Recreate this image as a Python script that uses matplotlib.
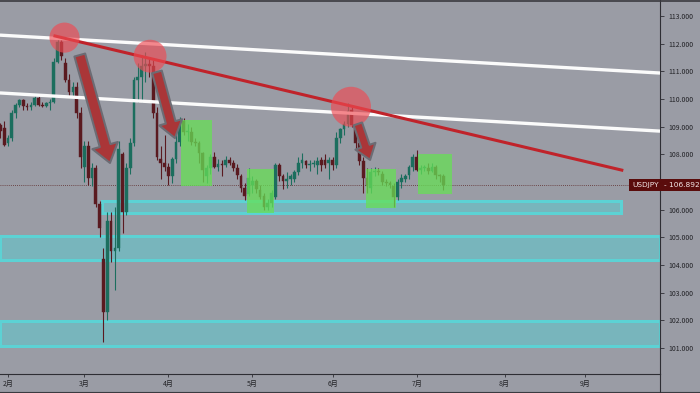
import matplotlib
matplotlib.use('Agg')
import matplotlib.pyplot as plt
from matplotlib.lines import Line2D
from matplotlib.patches import Rectangle
from matplotlib.transforms import blended_transform_factory

plt.rcParams['font.family'] = ['Noto Sans CJK JP', 'DejaVu Sans']

# daily USDJPY candles, bar index 0 = first trading day of February
first_bar = -2
opens = [109.05, 108.95, 108.4, 108.6, 109.5, 109.8, 109.95, 109.75, 109.7, 109.8,
         110.05, 109.8, 109.75, 109.85, 109.9, 111.35, 112.05, 111.3, 110.7, 110.25,
         110.45, 109.5, 107.55, 108.3, 107.15, 107.5, 106.2, 104.2, 102.3, 105.6,
         104.5, 104.6, 108.0, 105.9, 107.5, 108.4, 110.7, 110.8, 111.2, 111.25,
         111.2, 109.5, 107.85, 107.7, 107.55, 107.2, 107.85, 108.45, 109.2, 108.8,
         108.8, 108.45, 108.4, 108.05, 107.2, 107.5, 107.9, 107.55, 107.65, 107.6,
         107.8, 107.7, 107.5, 107.2, 106.8, 106.55, 106.9, 107.05, 106.7, 106.5,
         106.1, 106.25, 106.45, 107.6, 107.2, 107.05, 107.1, 107.1, 107.35, 107.7,
         107.75, 107.6, 107.65, 107.6, 107.8, 107.8, 107.7, 107.8, 107.6, 108.6,
         108.9, 109.1, 109.6, 109.05, 108.4, 107.75, 107.15, 106.8, 107.35, 107.4,
         107.3, 107.0, 106.95, 106.85, 106.45, 107.0, 107.1, 107.25, 107.55, 107.9,
         107.45, 107.5, 107.5, 107.4, 107.55, 107.25, 107.2]
highs = [109.15, 109.2, 108.7, 109.6, 109.85, 110.0, 110.0, 109.85, 109.9, 110.1,
         110.1, 109.9, 109.9, 110.0, 111.5, 112.25, 112.2, 111.5, 110.9, 110.6,
         110.6, 109.7, 108.5, 108.5, 107.7, 107.6, 106.3, 104.6, 105.9, 105.9,
         106.1, 108.5, 108.1, 107.7, 108.6, 110.8, 111.3, 111.6, 111.7, 111.5,
         111.4, 109.7, 108.3, 108.7, 107.7, 107.9, 108.7, 109.35, 109.3, 109.1,
         109.0, 108.6, 108.5, 108.1, 107.6, 108.0, 108.1, 107.85, 107.8, 107.95,
         107.9, 107.8, 107.65, 107.3, 106.95, 107.5, 107.2, 107.1, 106.9, 106.6,
         106.4, 106.7, 107.7, 107.7, 107.3, 107.35, 107.3, 107.45, 107.9, 108.05,
         107.8, 107.8, 107.8, 107.9, 107.9, 108.0, 107.9, 107.9, 108.8, 108.95,
         109.2, 109.85, 109.7, 109.1, 108.5, 107.9, 107.5, 107.5, 107.55, 107.5,
         107.4, 107.1, 107.05, 106.95, 107.1, 107.3, 107.3, 107.6, 108.0, 108.15,
         107.6, 107.6, 107.7, 107.7, 107.6, 107.3, 107.3]
lows = [108.6, 108.3, 108.3, 108.5, 109.3, 109.7, 109.6, 109.6, 109.6, 109.75,
        109.75, 109.7, 109.7, 109.6, 109.85, 111.3, 111.4, 110.6, 110.1, 110.1,
        109.3, 107.5, 107.0, 106.9, 106.85, 106.1, 105.0, 101.2, 102.0, 104.1,
        103.1, 104.5, 105.15, 105.8, 107.3, 108.3, 109.9, 109.9, 110.6, 110.8,
        109.3, 107.8, 107.1, 107.4, 106.9, 106.95, 107.7, 108.3, 108.7, 108.5,
        108.35, 108.3, 107.7, 107.0, 106.95, 107.3, 107.5, 107.4, 107.2, 107.55,
        107.6, 107.4, 107.1, 106.65, 106.35, 106.5, 106.6, 106.6, 106.4, 106.0,
        106.0, 106.1, 106.4, 107.05, 106.75, 106.8, 106.9, 107.0, 107.25, 107.5,
        107.5, 107.4, 107.55, 107.3, 107.4, 107.5, 107.1, 107.45, 107.5, 108.4,
        108.7, 109.0, 109.0, 108.2, 107.6, 106.6, 106.6, 106.6, 107.2, 107.25,
        106.9, 106.85, 106.8, 106.1, 106.35, 106.8, 107.0, 107.1, 107.4, 107.4,
        107.3, 107.4, 107.3, 107.35, 107.1, 107.0, 106.7]
closes = [108.85, 108.35, 108.6, 109.5, 109.8, 109.95, 109.75, 109.7, 109.8, 110.05,
          109.8, 109.75, 109.85, 109.9, 111.35, 112.05, 111.55, 110.7, 110.25, 110.45,
          109.5, 107.9, 108.3, 107.15, 107.5, 106.2, 105.35, 102.3, 105.6, 104.5,
          104.6, 108.2, 105.9, 107.5, 108.4, 110.7, 110.8, 111.2, 111.25, 111.2,
          109.5, 107.9, 107.7, 107.55, 107.2, 107.85, 108.45, 109.2, 108.8, 108.8,
          108.45, 108.4, 108.05, 107.45, 107.5, 107.9, 107.55, 107.65, 107.6, 107.8,
          107.7, 107.5, 107.25, 106.8, 106.5, 107.15, 107.05, 106.75, 106.45, 106.1,
          106.25, 106.6, 107.6, 107.2, 107.05, 107.1, 107.2, 107.35, 107.7, 107.8,
          107.6, 107.65, 107.7, 107.75, 107.6, 107.6, 107.8, 107.6, 108.6, 108.9,
          109.1, 109.55, 109.05, 108.4, 107.75, 107.15, 106.85, 107.35, 107.4, 107.35,
          107.0, 106.95, 106.9, 106.45, 107.0, 107.15, 107.2, 107.55, 107.9, 107.45,
          107.5, 107.5, 107.4, 107.55, 107.25, 107.2, 106.9]

last_price = 106.892
symbol = 'USDJPY'

month_bars = [0, 20, 42, 64, 85, 107, 130, 151]
month_labels = ['2月', '3月', '4月', '5月', '6月', '7月', '8月', '9月']
price_ticks = list(range(101, 114))

# drawn objects: (bar, price) pairs
upper_channel = ([-2.1, 170.7], [112.31, 110.94])
lower_channel = ([-2.1, 170.7], [110.22, 108.84])
red_trend = ([12.3, 160.7], [112.28, 107.43])
peak_bars = [14.8, 37.2, 89.8]
peak_prices = [112.22, 111.55, 109.72]
peak_sizes = [470, 560, 830]
arrow_from = [(18.8, 111.59), (39.0, 110.98), (91.6, 109.10)]
arrow_to = [(26.7, 107.69), (43.7, 108.59), (94.8, 107.80)]
arrow_scale = [10, 9, 8]
# green consolidation boxes: bar start, bar end, price low, price high
box_bars = [(45.3, 53.4), (62.6, 69.6), (93.7, 101.6), (107.3, 116.2)]
box_prices = [(106.86, 109.24), (105.88, 107.47), (106.06, 107.47), (106.57, 108.01)]
# cyan support zones: bar start, bar end, price low, price high
zone_bars = [(24.6, 160.5), (-2.1, 170.7), (-2.1, 170.7)]
zone_prices = [(105.88, 106.31), (104.18, 105.05), (101.07, 101.98)]

bg = '#9a9ca5'
bull_c = '#1c6e5e'
bear_c = '#5a1a20'

fig = plt.figure(figsize=(7, 3.93), dpi=100, facecolor=bg)
ax = fig.add_axes([0, 19 / 393, 660 / 700, 374 / 393])
ax.set_facecolor(bg)
ax.set_xlim(-2.09, 170.7)
ax.set_ylim(100.06, 113.58)

# support zones
for (b0, b1), (p0, p1) in zip(zone_bars, zone_prices):
    ax.add_patch(Rectangle((b0, p0), b1 - b0, p1 - p0, facecolor='#5ccbd0', alpha=0.55,
                           edgecolor='none', zorder=1))
    ax.add_patch(Rectangle((b0, p0), b1 - b0, p1 - p0, facecolor='none',
                           edgecolor='#5cd2d4', lw=2.2, zorder=1))

# candles
bars = list(range(first_bar, first_bar + len(opens)))
for i, o, h, l, c in zip(bars, opens, highs, lows, closes):
    col = bull_c if c >= o else bear_c
    ax.vlines(i, l, h, color=col, lw=0.8, zorder=3)
    ax.bar(i, max(abs(c - o), 0.03), bottom=min(o, c), width=0.72, color=col,
           edgecolor=col, lw=0.3, zorder=3)

# last price line
ax.axhline(last_price, color='#5e2a2a', lw=0.6, ls=(0, (1, 1.5)), zorder=2)

# channel and trend lines
ax.plot(*upper_channel, color='#fbfbfb', lw=2.4, zorder=4, solid_capstyle='butt')
ax.plot(*lower_channel, color='#fbfbfb', lw=2.4, zorder=4, solid_capstyle='butt')
ax.plot(*red_trend, color='#c0232a', lw=2.2, zorder=5)

# green boxes
for (b0, b1), (p0, p1) in zip(box_bars, box_prices):
    ax.add_patch(Rectangle((b0, p0), b1 - b0, p1 - p0, facecolor='#66e055', alpha=0.75,
                           edgecolor='none', zorder=4))

# peak circles
ax.scatter(peak_bars, peak_prices, s=peak_sizes, color='#ef4a52', alpha=0.65,
           edgecolors='none', zorder=6)

# arrows
for (x0, y0), (x1, y1), ms in zip(arrow_from, arrow_to, arrow_scale):
    ax.annotate('', xy=(x1, y1), xytext=(x0, y0),
                arrowprops=dict(arrowstyle='simple,head_length=1.3,head_width=1.9,tail_width=0.8',
                                mutation_scale=ms, fc='#aa3638', ec='#6c6c74', lw=1.5,
                                shrinkA=0, shrinkB=0), zorder=7)

# axes styling
for side in ['top', 'left']:
    ax.spines[side].set_visible(False)
ax.spines['right'].set_color('#2e2e34')
ax.spines['bottom'].set_color('#2e2e34')
ax.spines['right'].set_linewidth(0.8)
ax.spines['bottom'].set_linewidth(0.8)

# the 107 label sits behind the last-price tag
ax.yaxis.tick_right()
ax.set_yticks(price_ticks)
ax.set_yticklabels(['' if p == 107 else '%.3f' % p for p in price_ticks])
ax.tick_params(axis='y', direction='out', length=3, width=0.6, colors='#2e2e34',
               labelsize=5, pad=3, labelcolor='#222226')
ax.set_xticks(month_bars)
ax.set_xticklabels(month_labels)
ax.tick_params(axis='x', direction='out', length=2, width=0.6, colors='#2e2e34',
               labelsize=5, pad=2, labelcolor='#222226')

# price labels
trans = blended_transform_factory(ax.transAxes, ax.transData)
ax.text(0.998, last_price, symbol, transform=trans, ha='right', va='center', fontsize=5.3,
        color='#f2e6e6', family='DejaVu Sans', zorder=9,
        bbox=dict(boxstyle='square,pad=0.4', fc='#5a0c0c', ec='none'))
ax.text(1.006, last_price, '- %.3f' % last_price, transform=trans, ha='left', va='center',
        fontsize=5.3, color='#f2e6e6', family='DejaVu Sans', zorder=9, clip_on=False,
        bbox=dict(boxstyle='square,pad=0.45', fc='#5a0c0c', ec='none'))

# frame lines of the terminal window
fig.add_artist(Line2D([0, 1], [1 / 393, 1 / 393], color='#3a3a40', lw=0.8))
fig.add_artist(Line2D([0, 1], [0.997, 0.997], color='#3a3a40', lw=1.2))
fig.add_artist(Line2D([660 / 700, 660 / 700], [0, 19 / 393], color='#2e2e34', lw=0.8))

fig.savefig('out.png', dpi=100, facecolor=bg)
